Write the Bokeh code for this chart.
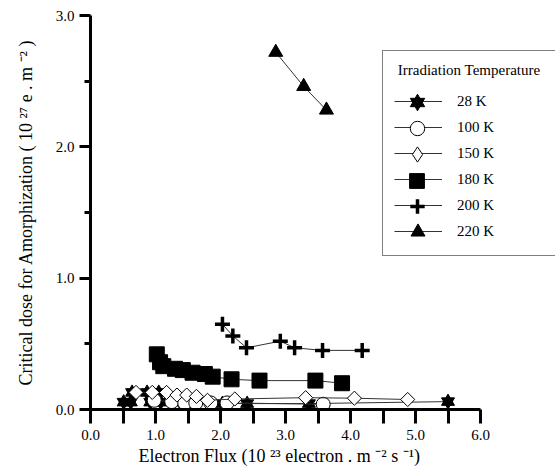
import numpy as np
from bokeh.plotting import figure
from bokeh.models import (FixedTicker, PrintfTickFormatter, Legend, LegendItem, Range1d, Title)
from bokeh.embed import file_html
from bokeh.resources import INLINE

# ---- data ----
t28_x = [0.51, 0.62, 0.64, 0.87, 0.92, 1.05, 1.08, 1.38, 2.03, 2.41, 3.36, 5.50]
t28_y = [0.056, 0.056, 0.13, 0.13, 0.056, 0.13, 0.056, 0.056, 0.045, 0.045, 0.045, 0.06]

t100_x = [0.98, 1.25, 1.45, 1.62, 1.85, 2.10, 3.58]
t100_y = [0.07, 0.06, 0.05, 0.05, 0.05, 0.05, 0.04]

t150_x = [0.70, 0.95, 1.17, 1.33, 1.48, 1.63, 1.80, 2.22, 3.31, 4.06, 4.88]
t150_y = [0.13, 0.13, 0.13, 0.11, 0.11, 0.10, 0.07, 0.08, 0.09, 0.086, 0.076]

t180_x = [1.02, 1.07, 1.12, 1.30, 1.42, 1.57, 1.76, 1.88, 2.17, 2.60, 3.46, 3.87]
t180_y = [0.42, 0.36, 0.33, 0.31, 0.30, 0.28, 0.27, 0.25, 0.23, 0.22, 0.22, 0.20]

t200_x = [2.03, 2.19, 2.40, 2.92, 3.14, 3.57, 4.18]
t200_y = [0.65, 0.56, 0.47, 0.52, 0.47, 0.45, 0.45]

t220_x = [2.85, 3.28, 3.63]
t220_y = [2.72, 2.46, 2.28]

labels = ["28 K", "100 K", "150 K", "180 K", "200 K", "220 K"]

x_ticks = [0, 1, 2, 3, 4, 5, 6]
x_minor = [0.5, 1.5, 2.5, 3.5, 4.5, 5.5]
y_ticks = [0, 1, 2, 3]
y_minor = [0.5, 1.5, 2.5]

FONT = "Liberation Serif"

W, H = 555, 470
FL, FR = 90, 555                      # frame left / right in pixels
PX_PER_UNIT = 65.0
p = figure(width=W, height=H, output_backend="svg", toolbar_location=None,
           x_range=Range1d(0, (FR - FL) / PX_PER_UNIT), y_range=Range1d(0, 3.0),
           min_border_left=FL, min_border_right=W - FR, min_border_top=15, min_border_bottom=61)
p.grid.visible = False
p.outline_line_color = None
p.background_fill_color = "white"
p.border_fill_color = "white"

for ax in (p.xaxis[0], p.yaxis[0]):
    ax.axis_line_width = 3
    ax.axis_line_color = "black"
    ax.major_tick_line_width = 3
    ax.minor_tick_line_width = 3
    ax.major_tick_in = 0
    ax.minor_tick_in = 0
    ax.major_label_text_font = FONT
    ax.major_label_text_font_size = "15px"
    ax.major_label_text_color = "black"
    ax.axis_label_text_font = FONT
    ax.axis_label_text_font_size = "18px"
    ax.axis_label_text_font_style = "normal"
    ax.axis_label_text_color = "black"
    ax.formatter = PrintfTickFormatter(format="%.1f")

p.xaxis.ticker = FixedTicker(ticks=x_ticks, minor_ticks=x_minor)
p.xaxis.bounds = (0, 6)
p.xaxis.major_tick_out = 14
p.xaxis.minor_tick_out = 14
p.xaxis.major_label_standoff = 6

# x-axis title, placed under the 0..6 axis
xtitle = Title(text="Electron Flux (10 \u00b2\u00b3 electron . m \u207b\u00b2 s \u207b\u00b9)",
               align="left", offset=48, standoff=3,
               text_font=FONT, text_font_size="18px", text_font_style="normal", text_color="black")
p.add_layout(xtitle, "below")

p.yaxis.ticker = FixedTicker(ticks=y_ticks, minor_ticks=y_minor)
p.yaxis.bounds = (0, 3)
p.yaxis.major_tick_out = 11
p.yaxis.minor_tick_out = 6
p.yaxis.major_label_standoff = 5
p.yaxis.axis_label_standoff = 17
p.yaxis.axis_label = "Critical dose for Amorphization ( 10 \u00b2\u2077 e . m \u207b\u00b2 )"

LC = "#333333"

def series(xs, ys):
    return p.line(xs, ys, line_color=LC, line_width=1)

# 28 K : six-pointed star (two overlaid triangles)
l28 = series(t28_x, t28_y)
s28a = p.scatter(t28_x, t28_y, marker="triangle", size=13, fill_color="black", line_color="black")
s28b = p.scatter(t28_x, t28_y, marker="inverted_triangle", size=13, fill_color="black", line_color="black")

l100 = series(t100_x, t100_y)
s100 = p.scatter(t100_x, t100_y, marker="circle", size=14, fill_color="white", line_color="black", line_width=1)

l150 = series(t150_x, t150_y)
s150 = p.scatter(t150_x, t150_y, marker="square", angle=np.pi / 4, size=10, fill_color="white",
                 line_color="black", line_width=1)
# legend-only sample for the diamond (legend samples are drawn unrotated)
s150_leg = p.scatter(t150_x, t150_y, marker="diamond", size=14, fill_color="white",
                     line_color="black", line_width=1, visible=False)

l180 = series(t180_x, t180_y)
s180 = p.scatter(t180_x, t180_y, marker="square", size=15, fill_color="black", line_color="black")

l200 = series(t200_x, t200_y)
s200 = p.scatter(t200_x, t200_y, marker="cross", size=15, line_color="black", line_width=3.5)

l220 = series(t220_x, t220_y)
s220 = p.scatter(t220_x, t220_y, marker="triangle", size=14, fill_color="black", line_color="black")

# ---- legend: box, title, line samples and labels ----
LEG_X, LEG_Y = 292, 153       # bottom-left of legend box, relative to plot frame
PAD, GW, GH = 11, 48, 26
line_rs = [l28, l100, l150, l180, l200, l220]
legend = Legend(items=[LegendItem(label=lab, renderers=[r]) for lab, r in zip(labels, line_rs)],
                location=(LEG_X, LEG_Y),
                title="\u00a0Irradiation Temperature\u00a0",
                title_text_font=FONT, title_text_font_size="15px", title_text_font_style="normal",
                title_text_color="black", title_standoff=9,
                label_text_font=FONT, label_text_font_size="15px", label_text_color="black",
                glyph_width=GW, glyph_height=GH, label_height=20, spacing=0,
                label_standoff=15, padding=PAD,
                border_line_color="black", border_line_width=1,
                background_fill_color="white", background_fill_alpha=1.0)
p.add_layout(legend)

# marker samples, drawn larger than the legend's default on top of each row
marker_rs = [[s28a, s28b], [s100], [s150_leg], [s180], [s200], [s220]]
sample_box = [36, 36, 38, 37, 36, 35]
n = len(labels)
for k, (rs, G) in enumerate(zip(marker_rs, sample_box)):
    cx = LEG_X + PAD + GW / 2.0
    cy = LEG_Y + PAD + GH / 2.0 + GH * (n - 1 - k)
    ov = Legend(items=[LegendItem(label="", renderers=rs)],
                location=(int(round(cx - G / 2.0)), int(round(cy - G / 2.0))),
                glyph_width=G, glyph_height=G, label_width=0, label_height=0,
                label_standoff=0, padding=0, spacing=0, margin=0,
                border_line_color=None, background_fill_alpha=0.0)
    p.add_layout(ov)

open("out.html", "w").write(file_html(p, INLINE))
